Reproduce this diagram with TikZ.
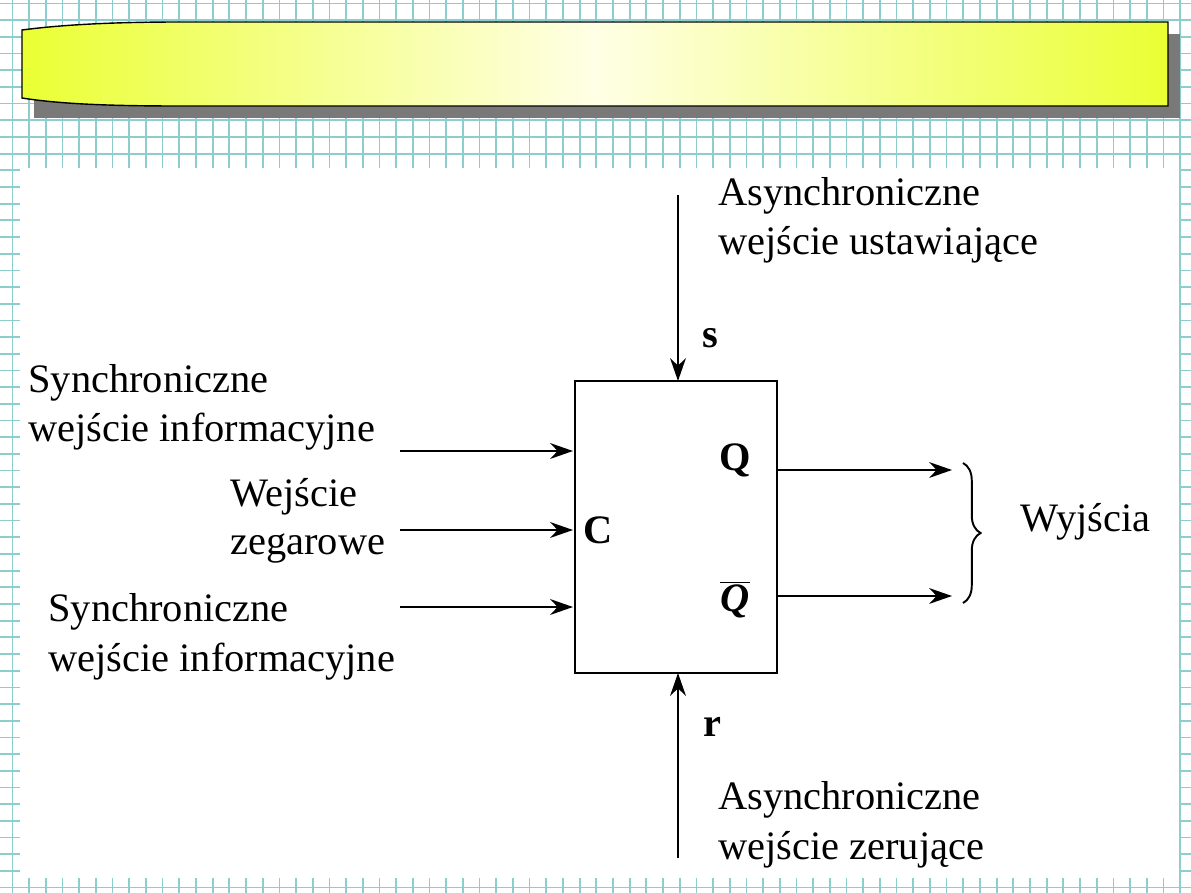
\documentclass[tikz,border=0pt]{standalone}
\usepackage{fontspec}
\setmainfont{Liberation Serif}
\usetikzlibrary{decorations.pathreplacing,arrows.meta}
\begin{document}
\begin{tikzpicture}[x=0.02cm,y=-0.02cm,
  lbl/.style={font=\fontsize{23}{26}\selectfont,inner sep=0pt},
  bl/.style={font=\fontsize{23}{26}\selectfont\bfseries,inner sep=0pt},
  arr/.style={-{Stealth[length=13pt,width=9pt]},line width=1.1pt}]
\useasboundingbox (0,0) rectangle (1191,893);
\fill[white] (0,0) rectangle (1191,893);
\definecolor{gridc}{RGB}{140,205,205}
\foreach \i in {0,...,71} \draw[gridc,line width=1pt] (12.5+16.68*\i,0) -- (12.5+16.68*\i,893);
\foreach \j in {0,...,53} \draw[gridc,line width=1pt] (0,3.5+16.68*\j) -- (1191,3.5+16.68*\j);
\fill[white] (20,168) rectangle (1179,878);
% banner
\fill[gray!95!black] (34,34) rectangle (1180,118);
\begin{scope}
\path[clip] (22,30) .. controls (60,25) and (110,22) .. (180,22) -- (1168,22) -- (1168,106) -- (180,106) .. controls (110,106) and (60,104) .. (22,98) -- cycle;
\shade[left color=yellow!90!green!80!white, right color=yellow!10] (20,20) rectangle (596,108);
\shade[right color=yellow!90!green!80!white, left color=yellow!10] (595,20) rectangle (1170,108);
\end{scope}
\draw[line width=0.8pt] (22,30) .. controls (60,25) and (110,22) .. (180,22) -- (1168,22) -- (1168,106) -- (180,106) .. controls (110,106) and (60,104) .. (22,98) -- cycle;
% block
\node[draw,line width=1.3pt,minimum width=4.04cm,minimum height=5.84cm,inner sep=0pt] (ff) at (676,527) {};
\coordinate (ts) at (678,195); \coordinate (te) at (678,381);
\coordinate (bs) at (678,858); \coordinate (be) at (678,673);
\draw[arr] (ts) -- (te);
\draw[arr] (bs) -- (be);
\coordinate (l1) at (400,451); \coordinate (l1e) at (573,451);
\coordinate (l2) at (400,530); \coordinate (l2e) at (573,530);
\coordinate (l3) at (400,607); \coordinate (l3e) at (573,607);
\draw[arr] (l1) -- (l1e); \draw[arr] (l2) -- (l2e); \draw[arr] (l3) -- (l3e);
\coordinate (r1) at (777,470); \coordinate (r1e) at (952,470);
\coordinate (r2) at (777,596); \coordinate (r2e) at (952,596);
\draw[arr] (r1) -- (r1e); \draw[arr] (r2) -- (r2e);
\draw[line width=1.1pt,decorate,decoration={brace,amplitude=10pt}] (963,463) -- (963,603);
\node[lbl,anchor=west] (a1) at (718,196) {Asynchroniczne};
\node[lbl,anchor=west] (a2) at (718,245) {wejście ustawiające};
\node[bl] (s) at (710,338) {s};
\node[lbl,anchor=west] (b1) at (28,383) {Synchroniczne};
\node[lbl,anchor=west] (b2) at (28,432) {wejście informacyjne};
\node[lbl,anchor=west] (c1) at (230,497) {Wejście};
\node[lbl,anchor=west] (c2) at (230,548) {zegarowe};
\node[lbl,anchor=west] (d1) at (48,612) {Synchroniczne};
\node[lbl,anchor=west] (d2) at (48,662) {wejście informacyjne};
\node[bl] (q) at (735,460) {Q};
\node[lbl] (qb) at (735,600) {$\overline{\mbox{\bfseries\itshape Q}}$};
\node[bl] (c) at (598,530) {C};
\node[lbl,anchor=west] (w) at (1020,522) {Wyjścia};
\node[bl] (r) at (712,727) {r};
\node[lbl,anchor=west] (e1) at (718,800) {Asynchroniczne};
\node[lbl,anchor=west] (e2) at (718,850) {wejście zerujące};
\end{tikzpicture}
\end{document}
